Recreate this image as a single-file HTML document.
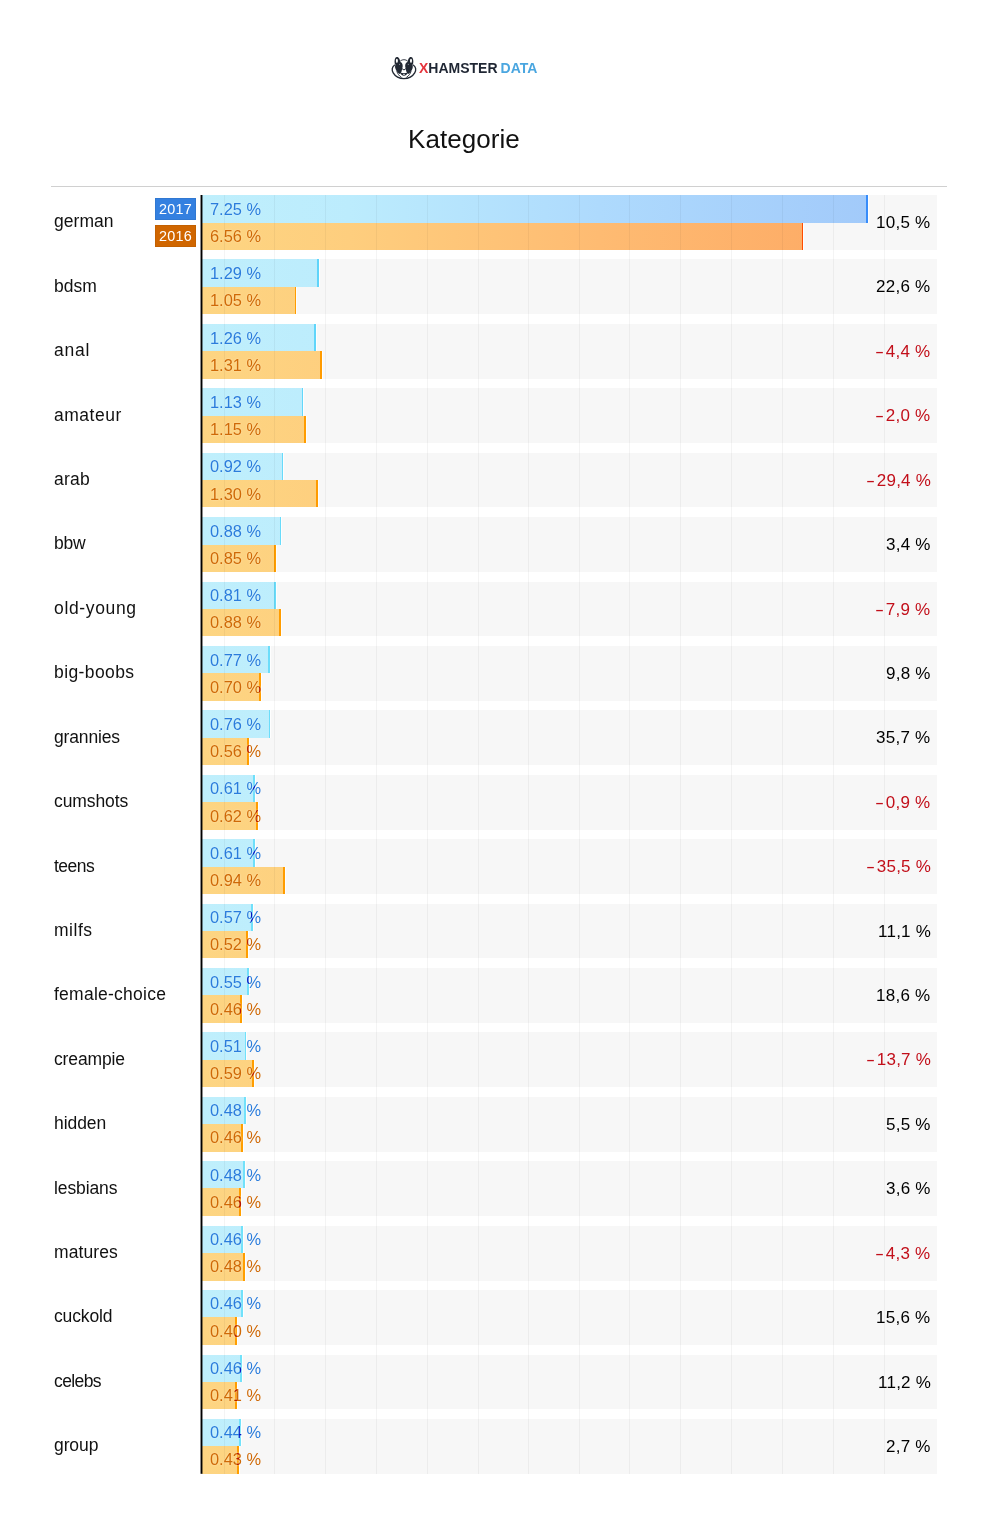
<!DOCTYPE html><html><head><meta charset="utf-8"><style>
*{margin:0;padding:0;box-sizing:border-box}
html,body{width:994px;height:1529px;background:#fff;overflow:hidden}
body{position:relative;font-family:"Liberation Sans",sans-serif}
.a{position:absolute}
.lab,.val,.chg,.title,.logo,.leg{will-change:transform}
.logo{left:418.5px;top:58px;font-weight:700;font-size:14px;line-height:20px;letter-spacing:0px;white-space:nowrap}
.title{left:407.8px;top:121px;font-size:26px;line-height:36px;color:#111;white-space:nowrap;letter-spacing:.05px}
.hr{left:51px;top:186px;width:896px;height:1px;background:#d0d0d0}
.rowbg{left:202.25px;width:734.75px;height:54.8px;background:#f7f7f7}
.grid{top:195.0px;height:1278.8px;width:1px;background:rgba(0,0,0,0.045)}
.bar{left:202.25px}
.bb{background:linear-gradient(to right,#bfeffc -0.2px,#bcecfd 147.8px,#aedafd 397.8px,#a2cafa 667.8px) no-repeat;background-size:734.75px 100%}
.ob{background:linear-gradient(to right,#fdd582 -0.2px,#fece7e 147.8px,#febb72 397.8px,#fda964 667.8px) no-repeat;background-size:734.75px 100%}
.edge{width:1.75px;box-shadow:1px 0 0 rgba(255,255,255,.85)}
.lab{left:54px;font-size:17.5px;line-height:20px;color:#111;white-space:nowrap}
.val{left:210px;font-size:16.4px;line-height:20px;white-space:nowrap;text-shadow:0 0 2px rgba(255,255,255,.5)}
.vb{color:#2a7cdc}
.vo{color:#cf6906}
.chg{right:63.25px;font-size:17px;line-height:20px;color:#000;letter-spacing:.25px;white-space:nowrap;text-align:right}
.neg{color:#c20f1a}
.mi{display:inline-block;transform:scaleX(1.6);transform-origin:0 50%;margin-right:4.8px}
.axis{left:200.75px;top:195.0px;width:1.5px;height:1278.7px;background:#000}
.leg{left:155px;width:41px;height:22px;color:#fff;font-size:14.4px;line-height:22px;text-align:center;letter-spacing:.3px;box-shadow:inset 0 0 0 1px rgba(0,0,0,.06)}
</style></head><body>
<svg class="a" style="left:390px;top:54px" width="28" height="26" viewBox="0 0 28 26">
<g fill="none" stroke="#222833" stroke-linecap="round">
<path d="M4.4,11.2 C2.0,12.8 1.5,16.2 3.2,18.9 C5.4,22.6 9.6,24.6 13.94,24.6 C18.3,24.6 22.5,22.6 24.7,18.9 C26.4,16.2 25.9,12.8 23.5,11.2" stroke-width="1.35"/>
<path d="M10.4,7.0 C12.0,5.2 15.9,5.2 17.5,7.0" stroke-width="0.9"/>
<path d="M12.1,14.7 C12.5,16.3 15.4,16.3 15.8,14.7" stroke-width="1.0"/>
<path d="M6.9,17.6 C7.7,20.0 9.1,21.8 11.2,23.2 M20.98,17.6 C20.18,20.0 18.78,21.8 16.68,23.2" stroke-width="0.9"/>
</g>
<g fill="#222833">
<path d="M5.0,10.8 C4.1,7.5 4.5,3.1 6.9,2.9 C9.0,2.8 10.0,5.6 10.3,8.6 Z"/>
<path d="M22.88,10.8 C23.78,7.5 23.38,3.1 20.98,2.9 C18.88,2.8 17.88,5.6 17.58,8.6 Z"/>
<path d="M10.3,8.0 C11.9,8.3 12.8,10 12.7,12.2 C12.6,13.8 11.9,15.5 11.6,17.2 C11.3,18.6 10.5,19.6 9.6,20.0 C7.8,18.8 6.0,16.6 5.3,14.2 C4.8,12.4 5.0,10.6 6.3,9.4 C7.4,8.4 8.8,7.8 10.3,8.0Z"/>
<path d="M17.58,8.0 C15.98,8.3 15.08,10 15.18,12.2 C15.28,13.8 15.98,15.5 16.28,17.2 C16.58,18.6 17.38,19.6 18.28,20.0 C20.08,18.8 21.88,16.6 22.58,14.2 C23.08,12.4 22.88,10.6 21.58,9.4 C20.48,8.4 19.08,7.8 17.58,8.0Z"/>
<path d="M10.4,18.8 C12.6,19.4 15.3,19.4 17.5,18.8 C17.1,20.8 15.6,21.8 13.94,21.8 C12.3,21.8 10.8,20.8 10.4,18.8Z"/>
</g>
<g fill="#fff">
<ellipse cx="6.9" cy="6.8" rx="1.0" ry="2.1"/>
<ellipse cx="20.98" cy="6.8" rx="1.0" ry="2.1"/>
<rect x="13.0" y="20.2" width="0.8" height="0.8"/>
<rect x="14.1" y="20.2" width="0.8" height="0.8"/>
</g>
<g fill="#8a8f99"><circle cx="9.6" cy="10.4" r="0.55"/><circle cx="18.28" cy="10.4" r="0.55"/></g>
</svg>
<div class="a logo"><span style="color:#e5343c">X</span><span style="color:#1f2633">HAMSTER</span><span style="color:#4aa6e0;margin-left:3px">DATA</span></div>
<div class="a title">Kategorie</div>
<div class="a hr"></div>
<div class="a rowbg" style="top:195.00px"></div>
<div class="a rowbg" style="top:259.42px"></div>
<div class="a rowbg" style="top:323.84px"></div>
<div class="a rowbg" style="top:388.26px"></div>
<div class="a rowbg" style="top:452.68px"></div>
<div class="a rowbg" style="top:517.10px"></div>
<div class="a rowbg" style="top:581.52px"></div>
<div class="a rowbg" style="top:645.94px"></div>
<div class="a rowbg" style="top:710.36px"></div>
<div class="a rowbg" style="top:774.78px"></div>
<div class="a rowbg" style="top:839.20px"></div>
<div class="a rowbg" style="top:903.62px"></div>
<div class="a rowbg" style="top:968.04px"></div>
<div class="a rowbg" style="top:1032.46px"></div>
<div class="a rowbg" style="top:1096.88px"></div>
<div class="a rowbg" style="top:1161.30px"></div>
<div class="a rowbg" style="top:1225.72px"></div>
<div class="a rowbg" style="top:1290.14px"></div>
<div class="a rowbg" style="top:1354.56px"></div>
<div class="a rowbg" style="top:1418.98px"></div>
<div class="a bar bb" style="top:195.00px;height:27.70px;width:665.75px"></div>
<div class="a edge" style="top:195.00px;height:27.70px;left:866.25px;background:#378cfa"></div>
<div class="a bar ob" style="top:222.70px;height:27.10px;width:601.05px"></div>
<div class="a edge" style="top:222.70px;height:27.10px;left:801.55px;background:#ff4c00"></div>
<div class="a bar bb" style="top:259.42px;height:27.66px;width:116.25px"></div>
<div class="a edge" style="top:259.42px;height:27.66px;left:316.75px;background:#5fd4fa"></div>
<div class="a bar ob" style="top:287.08px;height:27.14px;width:94.05px"></div>
<div class="a edge" style="top:287.08px;height:27.14px;left:294.55px;background:#ff9c00"></div>
<div class="a bar bb" style="top:323.84px;height:27.63px;width:113.45px"></div>
<div class="a edge" style="top:323.84px;height:27.63px;left:313.95px;background:#60d5fa"></div>
<div class="a bar ob" style="top:351.47px;height:27.17px;width:119.75px"></div>
<div class="a edge" style="top:351.47px;height:27.17px;left:320.25px;background:#ff9b00"></div>
<div class="a bar bb" style="top:388.26px;height:27.60px;width:101.15px"></div>
<div class="a edge" style="top:388.26px;height:27.60px;left:301.65px;background:#63d7fa"></div>
<div class="a bar ob" style="top:415.86px;height:27.20px;width:103.25px"></div>
<div class="a edge" style="top:415.86px;height:27.20px;left:303.75px;background:#ff9c00"></div>
<div class="a bar bb" style="top:452.68px;height:27.56px;width:81.05px"></div>
<div class="a edge" style="top:452.68px;height:27.56px;left:281.55px;background:#68dafa"></div>
<div class="a bar ob" style="top:480.24px;height:27.24px;width:115.95px"></div>
<div class="a edge" style="top:480.24px;height:27.24px;left:316.45px;background:#ff9b00"></div>
<div class="a bar bb" style="top:517.10px;height:27.52px;width:79.05px"></div>
<div class="a edge" style="top:517.10px;height:27.52px;left:279.55px;background:#69dbfa"></div>
<div class="a bar ob" style="top:544.62px;height:27.27px;width:73.45px"></div>
<div class="a edge" style="top:544.62px;height:27.27px;left:273.95px;background:#ff9d00"></div>
<div class="a bar bb" style="top:581.52px;height:27.49px;width:73.45px"></div>
<div class="a edge" style="top:581.52px;height:27.49px;left:273.95px;background:#6adcfa"></div>
<div class="a bar ob" style="top:609.01px;height:27.31px;width:78.25px"></div>
<div class="a edge" style="top:609.01px;height:27.31px;left:278.75px;background:#ff9c00"></div>
<div class="a bar bb" style="top:645.94px;height:27.45px;width:67.25px"></div>
<div class="a edge" style="top:645.94px;height:27.45px;left:267.75px;background:#6cddfa"></div>
<div class="a bar ob" style="top:673.39px;height:27.35px;width:58.75px"></div>
<div class="a edge" style="top:673.39px;height:27.35px;left:259.25px;background:#ff9d00"></div>
<div class="a bar bb" style="top:710.36px;height:27.42px;width:68.05px"></div>
<div class="a edge" style="top:710.36px;height:27.42px;left:268.55px;background:#6bddfa"></div>
<div class="a bar ob" style="top:737.78px;height:27.38px;width:46.75px"></div>
<div class="a edge" style="top:737.78px;height:27.38px;left:247.25px;background:#ff9e00"></div>
<div class="a bar bb" style="top:774.78px;height:27.38px;width:52.75px"></div>
<div class="a edge" style="top:774.78px;height:27.38px;left:253.25px;background:#6fdffa"></div>
<div class="a bar ob" style="top:802.16px;height:27.41px;width:55.45px"></div>
<div class="a edge" style="top:802.16px;height:27.41px;left:255.95px;background:#ff9d00"></div>
<div class="a bar bb" style="top:839.20px;height:27.35px;width:52.75px"></div>
<div class="a edge" style="top:839.20px;height:27.35px;left:253.25px;background:#6fdffa"></div>
<div class="a bar ob" style="top:866.55px;height:27.45px;width:82.95px"></div>
<div class="a edge" style="top:866.55px;height:27.45px;left:283.45px;background:#ff9c00"></div>
<div class="a bar bb" style="top:903.62px;height:27.31px;width:50.75px"></div>
<div class="a edge" style="top:903.62px;height:27.31px;left:251.25px;background:#70e0fa"></div>
<div class="a bar ob" style="top:930.93px;height:27.49px;width:45.25px"></div>
<div class="a edge" style="top:930.93px;height:27.49px;left:245.75px;background:#ff9e00"></div>
<div class="a bar bb" style="top:968.04px;height:27.28px;width:46.95px"></div>
<div class="a edge" style="top:968.04px;height:27.28px;left:247.45px;background:#71e0fa"></div>
<div class="a bar ob" style="top:995.32px;height:27.52px;width:39.75px"></div>
<div class="a edge" style="top:995.32px;height:27.52px;left:240.25px;background:#ff9e00"></div>
<div class="a bar bb" style="top:1032.46px;height:27.25px;width:44.05px"></div>
<div class="a edge" style="top:1032.46px;height:27.25px;left:244.55px;background:#71e1fa"></div>
<div class="a bar ob" style="top:1059.71px;height:27.55px;width:51.55px"></div>
<div class="a edge" style="top:1059.71px;height:27.55px;left:252.05px;background:#ff9d00"></div>
<div class="a bar bb" style="top:1096.88px;height:27.21px;width:43.25px"></div>
<div class="a edge" style="top:1096.88px;height:27.21px;left:243.75px;background:#72e1fa"></div>
<div class="a bar ob" style="top:1124.09px;height:27.59px;width:40.45px"></div>
<div class="a edge" style="top:1124.09px;height:27.59px;left:240.95px;background:#ff9e00"></div>
<div class="a bar bb" style="top:1161.30px;height:27.17px;width:42.45px"></div>
<div class="a edge" style="top:1161.30px;height:27.17px;left:242.95px;background:#72e1fa"></div>
<div class="a bar ob" style="top:1188.48px;height:27.62px;width:38.55px"></div>
<div class="a edge" style="top:1188.48px;height:27.62px;left:239.05px;background:#ff9e00"></div>
<div class="a bar bb" style="top:1225.72px;height:27.14px;width:40.45px"></div>
<div class="a edge" style="top:1225.72px;height:27.14px;left:240.95px;background:#72e2fa"></div>
<div class="a bar ob" style="top:1252.86px;height:27.66px;width:42.45px"></div>
<div class="a edge" style="top:1252.86px;height:27.66px;left:242.95px;background:#ff9e00"></div>
<div class="a bar bb" style="top:1290.14px;height:27.11px;width:40.65px"></div>
<div class="a edge" style="top:1290.14px;height:27.11px;left:241.15px;background:#72e1fa"></div>
<div class="a bar ob" style="top:1317.25px;height:27.69px;width:34.35px"></div>
<div class="a edge" style="top:1317.25px;height:27.69px;left:234.85px;background:#ff9e00"></div>
<div class="a bar bb" style="top:1354.56px;height:27.07px;width:39.75px"></div>
<div class="a edge" style="top:1354.56px;height:27.07px;left:240.25px;background:#72e2fa"></div>
<div class="a bar ob" style="top:1381.63px;height:27.73px;width:34.35px"></div>
<div class="a edge" style="top:1381.63px;height:27.73px;left:234.85px;background:#ff9e00"></div>
<div class="a bar bb" style="top:1418.98px;height:27.04px;width:38.75px"></div>
<div class="a edge" style="top:1418.98px;height:27.04px;left:239.25px;background:#73e2fa"></div>
<div class="a bar ob" style="top:1446.02px;height:27.76px;width:36.65px"></div>
<div class="a edge" style="top:1446.02px;height:27.76px;left:237.15px;background:#ff9e00"></div>
<div class="a grid" style="left:224.00px"></div>
<div class="a grid" style="left:274.00px"></div>
<div class="a grid" style="left:325.00px"></div>
<div class="a grid" style="left:376.00px"></div>
<div class="a grid" style="left:427.00px"></div>
<div class="a grid" style="left:478.00px"></div>
<div class="a grid" style="left:528.00px"></div>
<div class="a grid" style="left:579.00px"></div>
<div class="a grid" style="left:629.00px"></div>
<div class="a grid" style="left:680.00px"></div>
<div class="a grid" style="left:731.00px"></div>
<div class="a grid" style="left:782.00px"></div>
<div class="a grid" style="left:833.00px"></div>
<div class="a grid" style="left:884.00px"></div>
<div class="a lab" style="top:211.30px;letter-spacing:0.04px">german</div>
<div class="a val vb" style="top:198.90px">7.25 %</div>
<div class="a val vo" style="top:226.10px">6.56 %</div>
<div class="a chg" style="top:213.00px">10,5 %</div>
<div class="a lab" style="top:275.72px;letter-spacing:0.00px">bdsm</div>
<div class="a val vb" style="top:263.28px">1.29 %</div>
<div class="a val vo" style="top:290.48px">1.05 %</div>
<div class="a chg" style="top:277.42px">22,6 %</div>
<div class="a lab" style="top:340.14px;letter-spacing:0.80px">anal</div>
<div class="a val vb" style="top:327.67px">1.26 %</div>
<div class="a val vo" style="top:354.87px">1.31 %</div>
<div class="a chg neg" style="top:341.84px"><span class=mi>-</span>4,4 %</div>
<div class="a lab" style="top:404.56px;letter-spacing:0.52px">amateur</div>
<div class="a val vb" style="top:392.06px">1.13 %</div>
<div class="a val vo" style="top:419.25px">1.15 %</div>
<div class="a chg neg" style="top:406.26px"><span class=mi>-</span>2,0 %</div>
<div class="a lab" style="top:468.98px;letter-spacing:0.23px">arab</div>
<div class="a val vb" style="top:456.44px">0.92 %</div>
<div class="a val vo" style="top:483.64px">1.30 %</div>
<div class="a chg neg" style="top:470.68px"><span class=mi>-</span>29,4 %</div>
<div class="a lab" style="top:533.40px;letter-spacing:-0.20px">bbw</div>
<div class="a val vb" style="top:520.83px">0.88 %</div>
<div class="a val vo" style="top:548.02px">0.85 %</div>
<div class="a chg" style="top:535.10px">3,4 %</div>
<div class="a lab" style="top:597.82px;letter-spacing:0.65px">old-young</div>
<div class="a val vb" style="top:585.21px">0.81 %</div>
<div class="a val vo" style="top:612.41px">0.88 %</div>
<div class="a chg neg" style="top:599.52px"><span class=mi>-</span>7,9 %</div>
<div class="a lab" style="top:662.24px;letter-spacing:0.40px">big-boobs</div>
<div class="a val vb" style="top:649.60px">0.77 %</div>
<div class="a val vo" style="top:676.79px">0.70 %</div>
<div class="a" style="left:259.25px;top:673.39px;width:1.75px;height:27.35px;overflow:hidden"><div class="a val" style="left:-49.25px;top:3.40px;color:#b81400">0.70 %</div></div>
<div class="a chg" style="top:663.94px">9,8 %</div>
<div class="a lab" style="top:726.66px;letter-spacing:-0.16px">grannies</div>
<div class="a val vb" style="top:713.98px">0.76 %</div>
<div class="a val vo" style="top:741.18px">0.56 %</div>
<div class="a" style="left:247.25px;top:737.78px;width:1.75px;height:27.38px;overflow:hidden"><div class="a val" style="left:-37.25px;top:3.40px;color:#b81400">0.56 %</div></div>
<div class="a chg" style="top:728.36px">35,7 %</div>
<div class="a lab" style="top:791.08px;letter-spacing:-0.10px">cumshots</div>
<div class="a val vb" style="top:778.37px">0.61 %</div>
<div class="a val vo" style="top:805.56px">0.62 %</div>
<div class="a" style="left:253.25px;top:774.78px;width:1.75px;height:27.38px;overflow:hidden"><div class="a val" style="left:-43.25px;top:3.59px;color:#0a10c0">0.61 %</div></div>
<div class="a" style="left:255.95px;top:802.16px;width:1.75px;height:27.41px;overflow:hidden"><div class="a val" style="left:-45.95px;top:3.40px;color:#b81400">0.62 %</div></div>
<div class="a chg neg" style="top:792.78px"><span class=mi>-</span>0,9 %</div>
<div class="a lab" style="top:855.50px;letter-spacing:-0.50px">teens</div>
<div class="a val vb" style="top:842.75px">0.61 %</div>
<div class="a val vo" style="top:869.95px">0.94 %</div>
<div class="a" style="left:253.25px;top:839.20px;width:1.75px;height:27.35px;overflow:hidden"><div class="a val" style="left:-43.25px;top:3.55px;color:#0a10c0">0.61 %</div></div>
<div class="a chg neg" style="top:857.20px"><span class=mi>-</span>35,5 %</div>
<div class="a lab" style="top:919.92px;letter-spacing:0.52px">milfs</div>
<div class="a val vb" style="top:907.13px">0.57 %</div>
<div class="a val vo" style="top:934.33px">0.52 %</div>
<div class="a" style="left:251.25px;top:903.62px;width:1.75px;height:27.31px;overflow:hidden"><div class="a val" style="left:-41.25px;top:3.51px;color:#0a10c0">0.57 %</div></div>
<div class="a" style="left:245.75px;top:930.93px;width:1.75px;height:27.49px;overflow:hidden"><div class="a val" style="left:-35.75px;top:3.40px;color:#b81400">0.52 %</div></div>
<div class="a chg" style="top:921.62px">11,1 %</div>
<div class="a lab" style="top:984.34px;letter-spacing:0.25px">female-choice</div>
<div class="a val vb" style="top:971.52px">0.55 %</div>
<div class="a val vo" style="top:998.72px">0.46 %</div>
<div class="a" style="left:247.45px;top:968.04px;width:1.75px;height:27.28px;overflow:hidden"><div class="a val" style="left:-37.45px;top:3.48px;color:#0a10c0">0.55 %</div></div>
<div class="a" style="left:240.25px;top:995.32px;width:1.75px;height:27.52px;overflow:hidden"><div class="a val" style="left:-30.25px;top:3.40px;color:#b81400">0.46 %</div></div>
<div class="a chg" style="top:986.04px">18,6 %</div>
<div class="a lab" style="top:1048.76px;letter-spacing:-0.14px">creampie</div>
<div class="a val vb" style="top:1035.91px">0.51 %</div>
<div class="a val vo" style="top:1063.11px">0.59 %</div>
<div class="a" style="left:244.55px;top:1032.46px;width:1.75px;height:27.25px;overflow:hidden"><div class="a val" style="left:-34.55px;top:3.45px;color:#0a10c0">0.51 %</div></div>
<div class="a" style="left:252.05px;top:1059.71px;width:1.75px;height:27.55px;overflow:hidden"><div class="a val" style="left:-42.05px;top:3.40px;color:#b81400">0.59 %</div></div>
<div class="a chg neg" style="top:1050.46px"><span class=mi>-</span>13,7 %</div>
<div class="a lab" style="top:1113.18px;letter-spacing:-0.06px">hidden</div>
<div class="a val vb" style="top:1100.29px">0.48 %</div>
<div class="a val vo" style="top:1127.49px">0.46 %</div>
<div class="a" style="left:243.75px;top:1096.88px;width:1.75px;height:27.21px;overflow:hidden"><div class="a val" style="left:-33.75px;top:3.41px;color:#0a10c0">0.48 %</div></div>
<div class="a" style="left:240.95px;top:1124.09px;width:1.75px;height:27.59px;overflow:hidden"><div class="a val" style="left:-30.95px;top:3.40px;color:#b81400">0.46 %</div></div>
<div class="a chg" style="top:1114.88px">5,5 %</div>
<div class="a lab" style="top:1177.60px;letter-spacing:-0.11px">lesbians</div>
<div class="a val vb" style="top:1164.68px">0.48 %</div>
<div class="a val vo" style="top:1191.88px">0.46 %</div>
<div class="a" style="left:242.95px;top:1161.30px;width:1.75px;height:27.17px;overflow:hidden"><div class="a val" style="left:-32.95px;top:3.38px;color:#0a10c0">0.48 %</div></div>
<div class="a" style="left:239.05px;top:1188.48px;width:1.75px;height:27.62px;overflow:hidden"><div class="a val" style="left:-29.05px;top:3.40px;color:#b81400">0.46 %</div></div>
<div class="a chg" style="top:1179.30px">3,6 %</div>
<div class="a lab" style="top:1242.02px;letter-spacing:0.08px">matures</div>
<div class="a val vb" style="top:1229.06px">0.46 %</div>
<div class="a val vo" style="top:1256.26px">0.48 %</div>
<div class="a" style="left:240.95px;top:1225.72px;width:1.75px;height:27.14px;overflow:hidden"><div class="a val" style="left:-30.95px;top:3.34px;color:#0a10c0">0.46 %</div></div>
<div class="a" style="left:242.95px;top:1252.86px;width:1.75px;height:27.66px;overflow:hidden"><div class="a val" style="left:-32.95px;top:3.40px;color:#b81400">0.48 %</div></div>
<div class="a chg neg" style="top:1243.72px"><span class=mi>-</span>4,3 %</div>
<div class="a lab" style="top:1306.44px;letter-spacing:-0.15px">cuckold</div>
<div class="a val vb" style="top:1293.45px">0.46 %</div>
<div class="a val vo" style="top:1320.65px">0.40 %</div>
<div class="a" style="left:241.15px;top:1290.14px;width:1.75px;height:27.11px;overflow:hidden"><div class="a val" style="left:-31.15px;top:3.31px;color:#0a10c0">0.46 %</div></div>
<div class="a" style="left:234.85px;top:1317.25px;width:1.75px;height:27.69px;overflow:hidden"><div class="a val" style="left:-24.85px;top:3.40px;color:#b81400">0.40 %</div></div>
<div class="a chg" style="top:1308.14px">15,6 %</div>
<div class="a lab" style="top:1370.86px;letter-spacing:-0.60px">celebs</div>
<div class="a val vb" style="top:1357.83px">0.46 %</div>
<div class="a val vo" style="top:1385.03px">0.41 %</div>
<div class="a" style="left:240.25px;top:1354.56px;width:1.75px;height:27.07px;overflow:hidden"><div class="a val" style="left:-30.25px;top:3.27px;color:#0a10c0">0.46 %</div></div>
<div class="a" style="left:234.85px;top:1381.63px;width:1.75px;height:27.73px;overflow:hidden"><div class="a val" style="left:-24.85px;top:3.40px;color:#b81400">0.41 %</div></div>
<div class="a chg" style="top:1372.56px">11,2 %</div>
<div class="a lab" style="top:1435.28px;letter-spacing:-0.10px">group</div>
<div class="a val vb" style="top:1422.22px">0.44 %</div>
<div class="a val vo" style="top:1449.42px">0.43 %</div>
<div class="a" style="left:239.25px;top:1418.98px;width:1.75px;height:27.04px;overflow:hidden"><div class="a val" style="left:-29.25px;top:3.24px;color:#0a10c0">0.44 %</div></div>
<div class="a" style="left:237.15px;top:1446.02px;width:1.75px;height:27.76px;overflow:hidden"><div class="a val" style="left:-27.15px;top:3.40px;color:#b81400">0.43 %</div></div>
<div class="a chg" style="top:1436.98px">2,7 %</div>
<svg class="a" style="left:0;top:0" width="994" height="1529"><rect x="200.55" y="195" width="1.9" height="1278.8" fill="#000"/></svg>
<div class="a leg" style="top:198px;background:#3480e0">2017</div>
<div class="a leg" style="top:225px;background:#d06600">2016</div>
</body></html>
